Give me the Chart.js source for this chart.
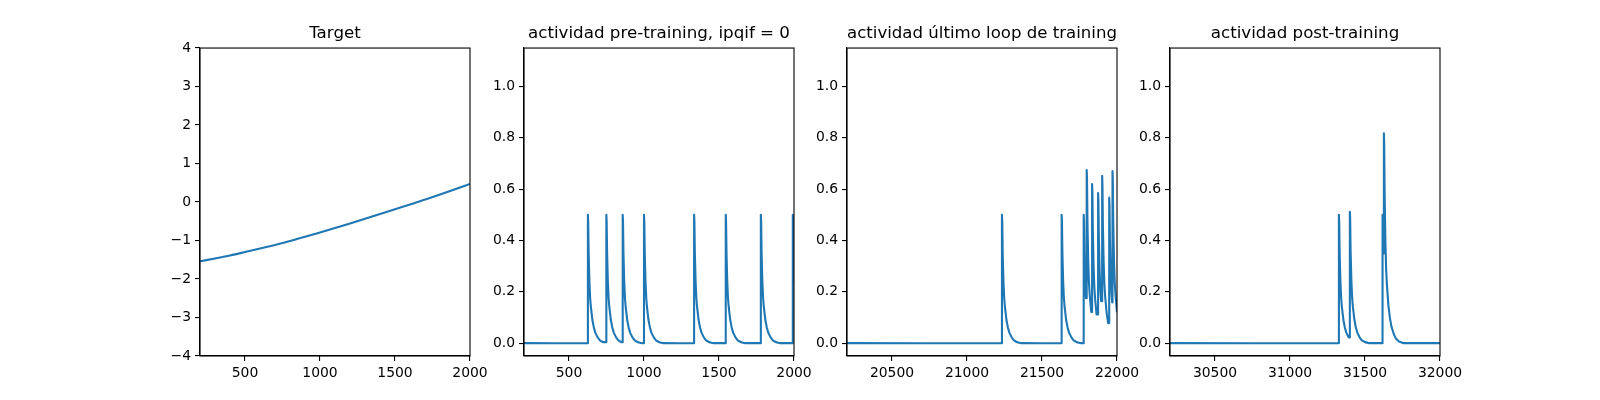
<!DOCTYPE html>
<html lang="en">
<head>
    <meta charset="UTF-8">
    <title>actividad</title>
    <script src="https://cdn.jsdelivr.net/npm/chart.js"></script>
    <style>
        body {
            margin: 0;
            background-color: #ffffff;
            width: 1600px;
            height: 400px;
            position: relative;
            overflow: hidden;
        }
        canvas {
            position: absolute;
            top: 0;
        }
    </style>
</head>
<body>
<canvas id="chartTarget" width="360" height="400" style="left:140px"></canvas>
<canvas id="chartPre" width="360" height="400" style="left:464px"></canvas>
<canvas id="chartLoop" width="360" height="400" style="left:787px"></canvas>
<canvas id="chartPost" width="360" height="400" style="left:1110px"></canvas>
<script>
    // target curve, read every 100 steps
    let targetX = [200, 300, 400, 500, 600, 700, 800, 900, 1000, 1100, 1200, 1300, 1400, 1500, 1600, 1700, 1800, 1900, 2000];
    let targetY = [-1.54, -1.465, -1.387, -1.30, -1.21, -1.115, -1.015, -0.905, -0.79, -0.673, -0.555, -0.435, -0.313, -0.19, -0.064, 0.063, 0.193, 0.33, 0.47];

    // spikes: [time, peak]
    let preSpikes = [[626, 0.5], [749, 0.5], [858, 0.5], [1000, 0.5], [1334, 0.5], [1545, 0.5], [1779, 0.5], [1992, 0.5]];
    let loopSpikes = [[21233, 0.5], [21631, 0.5], [21778, 0.5], [21798, 0.675], [21834, 0.62], [21874, 0.585], [21901, 0.652], [21948, 0.567], [21970, 0.671]];
    let postSpikes = [[31326, 0.5], [31399, 0.512], [31617, 0.5], [31626, 0.818]];

    // decay after a spike: [steps after spike, fraction of peak]
    let decayShape = [[0, 1], [2, 0.95], [5, 0.7], [10, 0.48], [15, 0.35], [20, 0.28], [30, 0.18], [40, 0.12], [50, 0.08], [65, 0.045], [80, 0.022], [100, 0.008], [130, 0]];

    // axis ranges and ticks
    let xRangeTarget = [200, 2000];
    let xRangePre = [200, 2000];
    let xRangeLoop = [20200, 22000];
    let xRangePost = [30200, 32000];
    let xTicksEarly = [500, 1000, 1500, 2000];
    let xTicksLoop = [20500, 21000, 21500, 22000];
    let xTicksPost = [30500, 31000, 31500, 32000];
    let yTicksTarget = [-4, -3, -2, -1, 0, 1, 2, 3, 4];
    let yTicksAct = [0, 0.2, 0.4, 0.6, 0.8, 1.0];

    const BLUE = '#1f77b4';
    Chart.defaults.font.family = 'DejaVu Sans';
    Chart.defaults.color = '#000000';

    function buildTrace(spikes, xMin, xMax) {
        let pts = [{x: xMin, y: 0}];
        for (let i = 0; i < spikes.length; i++) {
            let t = spikes[i][0];
            let peak = spikes[i][1];
            let next = i + 1 < spikes.length ? spikes[i + 1][0] : Infinity;
            let last = pts[pts.length - 1];
            // hold the last level until the spike, then rise straight up
            if (last.x < t) {
                pts.push({x: t, y: last.y});
            }
            pts.push({x: t, y: peak});
            for (let k = 1; k < decayShape.length; k++) {
                let tt = t + decayShape[k][0];
                if (tt >= next) break;
                pts.push({x: tt, y: peak * decayShape[k][1]});
            }
        }
        if (pts[pts.length - 1].x < xMax) {
            pts.push({x: xMax, y: 0});
        }
        return pts;
    }

    // draws the top and right spines
    const frame = {
        id: 'frame',
        afterDraw(chart) {
            let a = chart.chartArea;
            let c = chart.ctx;
            c.save();
            c.strokeStyle = '#000000';
            c.lineWidth = 1.1;
            c.strokeRect(a.left, a.top, a.right - a.left, a.bottom - a.top);
            c.restore();
        }
    };

    function makeChart(id, title, points, xRange, xTicks, yMin, yMax, yTicks, yLabel, smooth) {
        let ctx = document.getElementById(id).getContext('2d');
        return new Chart(ctx, {
            type: 'line',
            data: {
                datasets: [{
                    data: points,
                    borderColor: BLUE,
                    borderWidth: 2.1,
                    pointRadius: 0,
                    fill: false,
                    // a tiny tension keeps every point (no pixel-merging fast path)
                    tension: smooth ? 0.4 : 0.001,
                    cubicInterpolationMode: smooth ? 'monotone' : 'default',
                    borderJoinStyle: 'round'
                }]
            },
            options: {
                responsive: false,
                animation: false,
                layout: {padding: {left: 0, right: 30, top: 0, bottom: 0}},
                plugins: {
                    legend: {display: false},
                    tooltip: {enabled: false},
                    title: {
                        display: true,
                        text: title,
                        fullSize: false,
                        color: '#000000',
                        font: {size: 16.7, weight: 'normal', lineHeight: 1.2},
                        padding: {top: 24, bottom: 4}
                    }
                },
                scales: {
                    x: {
                        type: 'linear',
                        min: xRange[0],
                        max: xRange[1],
                        afterBuildTicks: function(scale) {
                            scale.ticks = xTicks.map(v => ({value: v}));
                        },
                        afterFit: function(scale) {
                            scale.height = 44;
                        },
                        grid: {display: true, drawOnChartArea: false, drawTicks: true, tickLength: 5, color: '#000000', lineWidth: 1.1},
                        border: {display: true, color: '#000000', width: 1.1},
                        ticks: {
                            autoSkip: false,
                            maxRotation: 0,
                            padding: 4,
                            font: {size: 13.9},
                            callback: v => String(v)
                        }
                    },
                    y: {
                        type: 'linear',
                        min: yMin,
                        max: yMax,
                        afterBuildTicks: function(scale) {
                            scale.ticks = yTicks.map(v => ({value: v}));
                        },
                        afterFit: function(scale) {
                            scale.width = 60;
                        },
                        grid: {display: true, drawOnChartArea: false, drawTicks: true, tickLength: 5, color: '#000000', lineWidth: 1.1},
                        border: {display: true, color: '#000000', width: 1.1},
                        ticks: {
                            autoSkip: false,
                            padding: 4,
                            font: {size: 13.9},
                            callback: yLabel
                        }
                    }
                }
            },
            plugins: [frame]
        });
    }

    function minusLabel(v) {
        return v < 0 ? '\u2212' + Math.abs(v) : String(v);
    }

    function actLabel(v) {
        return v.toFixed(1);
    }

    let targetPoints = targetX.map((x, i) => ({x: x, y: targetY[i]}));

    makeChart('chartTarget', 'Target', targetPoints, xRangeTarget, xTicksEarly, -4, 4, yTicksTarget, minusLabel, true);
    makeChart('chartPre', 'actividad pre-training, ipqif = 0', buildTrace(preSpikes, xRangePre[0], xRangePre[1]), xRangePre, xTicksEarly, -0.05, 1.15, yTicksAct, actLabel, false);
    makeChart('chartLoop', 'actividad último loop de training', buildTrace(loopSpikes, xRangeLoop[0], xRangeLoop[1]), xRangeLoop, xTicksLoop, -0.05, 1.15, yTicksAct, actLabel, false);
    makeChart('chartPost', 'actividad post-training', buildTrace(postSpikes, xRangePost[0], xRangePost[1]), xRangePost, xTicksPost, -0.05, 1.15, yTicksAct, actLabel, false);
</script>
</body>
</html>
